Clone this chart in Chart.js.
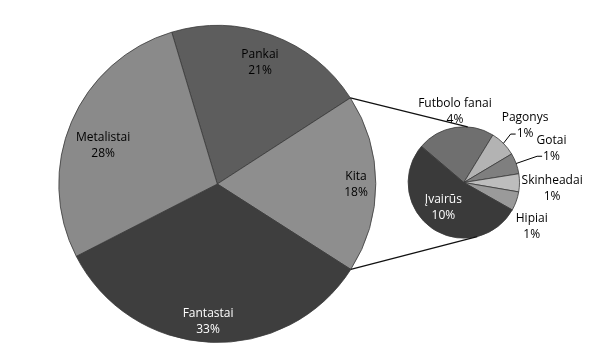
<!DOCTYPE html>
<html>
<head>
<meta charset="utf-8">
<script src="https://cdn.jsdelivr.net/npm/chart.js@4"></script>
<style>
html,body{margin:0;padding:0;background:#fff;}
#wrap{position:relative;width:604px;height:357px;}
#wrap canvas{position:absolute;left:0;top:0;}
</style>
</head>
<body>
<div id="wrap">
<canvas id="mainPie" width="604" height="357"></canvas>
<canvas id="subPie" width="604" height="357"></canvas>
</div>
<script>
// ---- data ----
const mainLabels = ['Pankai', 'Kita', 'Fantastai', 'Metalistai'];
const mainValues = [20.5, 18.2, 33.4, 27.9];
const subLabels = ['Futbolo fanai', 'Pagonys', 'Gotai', 'Skinheadai', 'Hipiai', 'Įvairūs'];
const subValues = [4.1, 1.4, 1.1, 0.95, 1.0, 9.65];
const splitIndex = 1; // "Kita" is broken out into the secondary pie

// ---- styles ----
const mainColors = ['#5d5d5d', '#8e8e8e', '#3e3e3e', '#8a8a8a'];
const subColors = ['#6f6f6f', '#b3b3b3', '#7f7f7f', '#bdbdbd', '#9a9a9a', '#3a3a3a'];
const mainTextColors = ['#000', '#000', '#fff', '#000'];
const subTextColors = ['#000', '#000', '#000', '#000', '#000', '#fff'];
const mainLabelPos = { shift: [-0.9, 0.5, 1.1, -4.5], radius: [0.815, 0.875, 0.87, 0.76] };
const subLabelPos = { shift: [1.9, 2.0, -1.4, 3.9, 13.1, 4.6], radius: [1.28, 1.495, 1.69, 1.59, 1.45, 0.576] };
const subLeaders = [false, true, true, false, false, false];
const FONT = '12px "Open Sans"';
const LINE_H = 16;

const pct = v => Math.round(v) + '%';
const rad = d => d * Math.PI / 180;

function drawLabels(chart, labels, values, textColors, pos) {
  const ctx = chart.ctx;
  const arcs = chart.getDatasetMeta(0).data;
  ctx.save();
  ctx.font = FONT;
  ctx.textAlign = 'center';
  ctx.textBaseline = 'middle';
  arcs.forEach((arc, i) => {
    const mid = (arc.startAngle + arc.endAngle) / 2 + rad(pos.shift[i]);
    const r = arc.outerRadius * pos.radius[i];
    const x = arc.x + Math.cos(mid) * r;
    const y = arc.y + Math.sin(mid) * r;
    ctx.fillStyle = textColors[i];
    ctx.fillText(labels[i], x, y - LINE_H / 2);
    ctx.fillText(pct(values[i]), x, y + LINE_H / 2);
    arc.$labelPos = { x, y };
  });
  ctx.restore();
}

const mainLabelPlugin = {
  id: 'mainLabels',
  afterDatasetsDraw(chart) {
    drawLabels(chart, mainLabels, mainValues, mainTextColors, mainLabelPos);
  }
};

const mainChart = new Chart(document.getElementById('mainPie'), {
  type: 'pie',
  data: {
    labels: mainLabels,
    datasets: [{
      data: mainValues,
      backgroundColor: mainColors,
      borderColor: '#3a3a3a',
      borderWidth: 0.8
    }]
  },
  options: {
    responsive: false,
    animation: false,
    events: [],
    rotation: -16.7,
    radius: 158.5,
    layout: { padding: { left: 0, right: 169.4, top: 11, bottom: 0 } },
    plugins: { legend: { display: false }, tooltip: { enabled: false } }
  },
  plugins: [mainLabelPlugin]
});

const subLabelPlugin = {
  id: 'subLabels',
  afterDatasetsDraw(chart) {
    drawLabels(chart, subLabels, subValues, subTextColors, subLabelPos);
    const ctx = chart.ctx;
    const arcs = chart.getDatasetMeta(0).data;
    ctx.save();
    ctx.font = FONT;
    ctx.strokeStyle = '#000';
    ctx.lineWidth = 1;
    // leader lines
    arcs.forEach((arc, i) => {
      if (!subLeaders[i]) return;
      const mid = (arc.startAngle + arc.endAngle) / 2;
      const ex = arc.x + Math.cos(mid) * arc.outerRadius;
      const ey = arc.y + Math.sin(mid) * arc.outerRadius;
      const p = arc.$labelPos;
      const w = ctx.measureText(pct(subValues[i])).width;
      const ax = p.x - w / 2 - 1;
      const ay = p.y + LINE_H / 2;
      ctx.beginPath();
      ctx.moveTo(ex, ey);
      ctx.lineTo(ax - 5, ay);
      ctx.lineTo(ax, ay);
      ctx.stroke();
    });
    // connector lines from the split slice to the secondary pie
    const src = mainChart.getDatasetMeta(0).data[splitIndex];
    const sub = arcs[0];
    const pts = [
      [src.startAngle, rad(-86)],
      [src.endAngle, rad(76)]
    ];
    ctx.lineWidth = 1.3;
    ctx.strokeStyle = '#111';
    pts.forEach(([a, b]) => {
      ctx.beginPath();
      ctx.moveTo(src.x + Math.cos(a) * src.outerRadius, src.y + Math.sin(a) * src.outerRadius);
      ctx.lineTo(sub.x + Math.cos(b) * sub.outerRadius, sub.y + Math.sin(b) * sub.outerRadius);
      ctx.stroke();
    });
    ctx.restore();
  }
};

new Chart(document.getElementById('subPie'), {
  type: 'pie',
  data: {
    labels: subLabels,
    datasets: [{
      data: subValues,
      backgroundColor: subColors,
      borderColor: '#3a3a3a',
      borderWidth: 0.8
    }]
  },
  options: {
    responsive: false,
    animation: false,
    events: [],
    rotation: -49.6,
    radius: 55.7,
    layout: { padding: { left: 363.8, right: 40.2, top: 10, bottom: 2 } },
    plugins: { legend: { display: false }, tooltip: { enabled: false } }
  },
  plugins: [subLabelPlugin]
});
</script>
</body>
</html>
